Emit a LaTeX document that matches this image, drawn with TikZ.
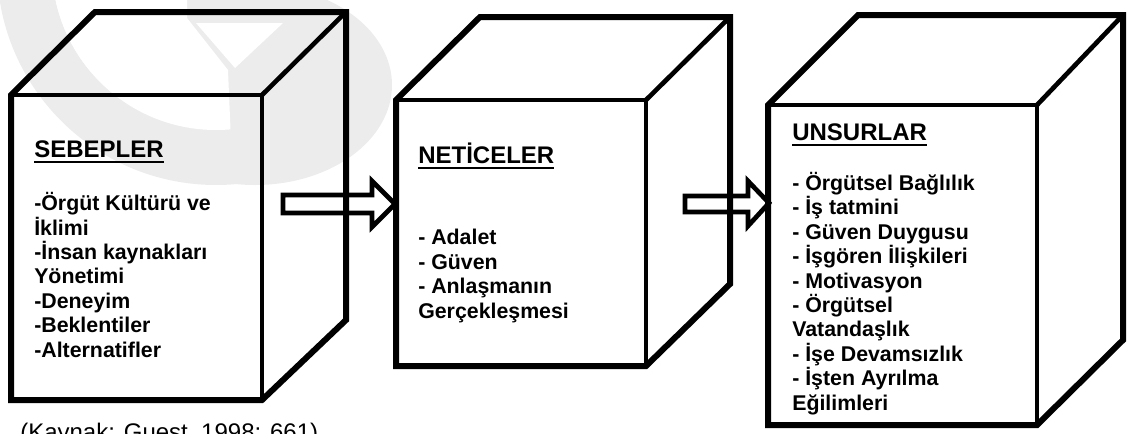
\documentclass[tikz,border=0pt]{standalone}
\usepackage{fontspec}
\setmainfont{Liberation Sans}
\usepackage{tikz}

\newcommand{\titleul}[1]{\setbox0\hbox{#1}\rlap{\rule[-4.6pt]{\wd0}{1.5pt}}\box0}

\begin{document}
\begin{tikzpicture}[x=0.75pt,y=0.75pt,yscale=-1,xscale=1]
%set diagram to the size of the page
\useasboundingbox (0,0) rectangle (1128,433);

%Watermark: faint logo [id:dp0wm01]
\fill [color={rgb, 255:red, 236; green, 236; blue, 236 }] (255,85) ellipse [x radius=137, y radius=100];
\begin{scope}
\clip (-20,-60) rectangle (260,260);
\fill [color={rgb, 255:red, 236; green, 236; blue, 236 }, even odd rule] (216,-34) circle (219) (216,-34) circle (164);
\end{scope}
\begin{scope}
\clip (-20,-60) -- (187,-60) -- (187,18) -- (228,70) -- (236,260) -- (-20,260) -- cycle;
\fill [white] (216,-34) circle (164);
\end{scope}
\fill [white] (196,23) -- (283,23) -- (235,68) -- cycle;
\fill [white] (350,-10) -- (440,-10) -- (440,20) -- (360,20) -- cycle;

%Shape: Cube [id:dp0cube01] SEBEPLER
\draw [line width=4.5pt, line join=miter] (11,400) -- (11,95) -- (95,12) -- (346,12) -- (346,320) -- (262,400) -- cycle ;
\draw [line width=3.5pt] (11,95) -- (262,95) -- (262,400) ;
\draw [line width=3.5pt] (262,95) -- (346,12) ;
%Shape: Cube [id:dp0cube02] NETICELER
\draw [line width=4.5pt, line join=miter] (396,366) -- (396,100) -- (480,17) -- (730,17) -- (730,284) -- (646,366) -- cycle ;
\draw [line width=3.5pt] (396,100) -- (646,100) -- (646,366) ;
\draw [line width=3.5pt] (646,100) -- (730,17) ;
%Shape: Cube [id:dp0cube03] UNSURLAR
\draw [line width=4.5pt, line join=miter] (768,425) -- (768,105) -- (858,15) -- (1123,15) -- (1123,340) -- (1037,425) -- cycle ;
\draw [line width=3.5pt] (768,105) -- (1037,105) -- (1037,425) ;
\draw [line width=3.5pt] (1037,105) -- (1123,15) ;

%Shape: Right Arrow [id:dp0arr01]
\draw [line width=3.5pt, line join=miter] (283,195) -- (372,195) -- (372,181) -- (395,204) -- (372,227) -- (372,213) -- (283,213) -- cycle ;
%Shape: Right Arrow [id:dp0arr02]
\draw [line width=3.5pt, line join=miter] (685,196) -- (748,196) -- (748,181) -- (769,203) -- (748,226) -- (748,212) -- (685,212) -- cycle ;

% Text Node
\draw (34,157) node (sebTitle) [anchor=base west][inner sep=0pt] [font=\fontsize{18}{21}\selectfont\bfseries] {\titleul{SEBEPLER}};
% Text Node (anchored at its last line)
\draw (34,357) node (sebList) [anchor=base west][inner sep=0pt] [font=\fontsize{16}{18.3}\selectfont\bfseries] [align=left] {-Örgüt Kültürü ve\\İklimi\\-İnsan kaynakları\\Yönetimi\\-Deneyim\\-Beklentiler\\-Alternatifler};
% Text Node
\draw (418,163) node (netTitle) [anchor=base west][inner sep=0pt] [font=\fontsize{18}{21}\selectfont\bfseries] {\titleul{NETİCELER}};
% Text Node (anchored at its last line)
\draw (418,318) node (netList) [anchor=base west][inner sep=0pt] [font=\fontsize{16}{18.3}\selectfont\bfseries] [align=left] {- Adalet\\- Güven\\- Anlaşmanın\\Gerçekleşmesi};
% Text Node
\draw (792,140) node (unsTitle) [anchor=base west][inner sep=0pt] [font=\fontsize{18}{21}\selectfont\bfseries] {\titleul{UNSURLAR}};
% Text Node (anchored at its last line)
\draw (792,410) node (unsList) [anchor=base west][inner sep=0pt] [font=\fontsize{16}{18.3}\selectfont\bfseries] [align=left] {- Örgütsel Bağlılık\\- İş tatmini\\- Güven Duygusu\\- İşgören İlişkileri\\- Motivasyon\\- Örgütsel\\Vatandaşlık\\- İşe Devamsızlık\\- İşten Ayrılma\\Eğilimleri};
% Text Node
\draw (20,440) node (kaynak) [anchor=base west][inner sep=0pt] [font=\fontsize{18}{21}\selectfont] {(Kaynak: Guest, 1998: 661)};
\end{tikzpicture}
\end{document}
